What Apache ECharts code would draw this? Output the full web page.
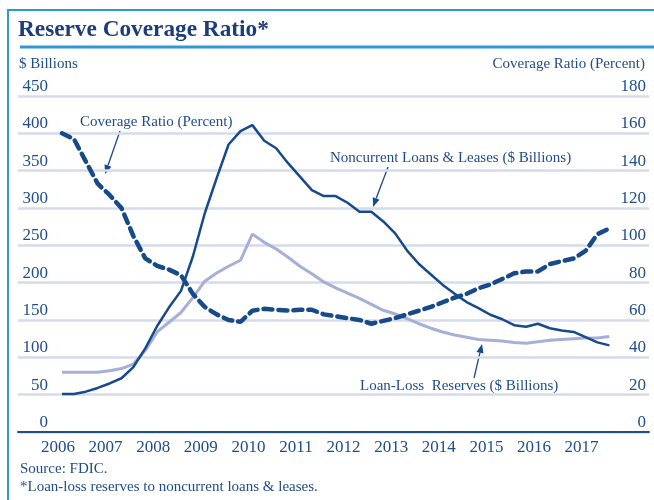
<!DOCTYPE html>
<html><head><meta charset="utf-8">
<script src="https://cdn.jsdelivr.net/npm/echarts@6/dist/echarts.min.js"></script>
<style>html,body{margin:0;padding:0;background:#fff}#c{width:654px;height:500px}</style>
</head><body><div id="c"></div>
<script>
const quarters = ["2006Q1","2006Q2","2006Q3","2006Q4","2007Q1","2007Q2","2007Q3","2007Q4",
  "2008Q1","2008Q2","2008Q3","2008Q4","2009Q1","2009Q2","2009Q3","2009Q4",
  "2010Q1","2010Q2","2010Q3","2010Q4","2011Q1","2011Q2","2011Q3","2011Q4",
  "2012Q1","2012Q2","2012Q3","2012Q4","2013Q1","2013Q2","2013Q3","2013Q4",
  "2014Q1","2014Q2","2014Q3","2014Q4","2015Q1","2015Q2","2015Q3","2015Q4",
  "2016Q1","2016Q2","2016Q3","2016Q4","2017Q1","2017Q2","2017Q3"];
const noncurrent = [51,51,54,59,65,72,87,112,142,167,189,235,293,340,385,403,411,390,380,360,342,324,316,316,307,295,295,282,266,243,225,211,197,185,174,166,157,151,143,141,145,139,136,134,127,120,116];
const reserves = [80,80,80,80,82,85,91,109,134,147,160,180,202,213,222,230,265,254,245,234,222,212,201,193,186,179,171,163,158,152,145,139,134,130,127,124,123,122,120,119,121,123,124,125,126,126,128];
const coverage = [160,157,145,133,127,120,105,93,89,87,84,74,67,63,60,59,65,66,65.5,65,65.5,65.5,63,62,61,60,58,59.5,61,63,65,67,69.5,72,74,77,79,82,85,86,86,90,91.5,93,97,106,109];
const yearMin = 2006, yearMax = 2018;
const leftMax = 450, leftStep = 50;
const rightMax = 180, rightStep = 20;

function qPos(q){ const y = +q.slice(0,4), n = +q.slice(5); return y + (n-1)/4 + 1/12; }
const pts = arr => arr.map((v,i)=>[qPos(quarters[i]), v]);

const SERIF = '"Liberation Serif","DejaVu Serif",serif';
const TXT = '#1f4c8c';
const DARK = '#174a8b';
const LIGHT = '#a6afd5';
const GRID = '#d6dbeb';
const FRAME = '#2f97d5';

function arrow(x1,y1,x2,y2){
  const a = Math.atan2(y2-y1, x2-x1), L = 9, W = 3.6;
  const bx = x2 - L*Math.cos(a), by = y2 - L*Math.sin(a);
  const px = -Math.sin(a)*W, py = Math.cos(a)*W;
  return [
    {type:'line', shape:{x1:x1,y1:y1,x2:bx,y2:by}, style:{stroke:DARK,lineWidth:1.3}},
    {type:'polygon', shape:{points:[[x2,y2],[bx+px,by+py],[bx-px,by-py]]}, style:{fill:DARK}}
  ];
}
function txt(x,y,t,opt,extra){
  return Object.assign({type:'text', x:x, y:y, style:Object.assign({text:t, fill:TXT, font:'15px '+SERIF, textVerticalAlign:'middle'}, opt||{})}, extra||{});
}

const chart = echarts.init(document.getElementById('c'), null, {renderer:'canvas'});
chart.setOption({
  animation:false,
  backgroundColor:'#fff',
  grid:[
    {left:18, right:5, top:96, bottom:68},
    {left:58, right:24.8, top:96, bottom:68}
  ],
  xAxis:[
    {gridIndex:0, type:'value', min:0, max:1, axisLine:{show:true, lineStyle:{color:'#1d4f8c', width:2}},
     axisTick:{show:false}, axisLabel:{show:false}, splitLine:{show:false}},
    {gridIndex:1, type:'value', min:yearMin, max:yearMax, interval:1, axisLine:{show:false},
     axisTick:{show:false}, splitLine:{show:false},
     axisLabel:{color:TXT, fontFamily:SERIF, fontSize:17, margin:7, formatter:v=>String(v), showMaxLabel:false}}
  ],
  yAxis:[
    {gridIndex:0, type:'value', min:0, max:leftMax, interval:leftStep, position:'left',
     axisLine:{show:false}, axisTick:{show:false},
     splitLine:{show:true, lineStyle:{color:GRID, width:2.5}},
     axisLabel:{inside:true, align:'right', margin:30, verticalAlign:'bottom', color:TXT, fontFamily:SERIF, fontSize:17, padding:[0,0,1,0]}},
    {gridIndex:0, type:'value', min:0, max:rightMax, interval:rightStep, position:'right',
     axisLine:{show:false}, axisTick:{show:false}, splitLine:{show:false},
     axisLabel:{inside:true, align:'right', margin:3, verticalAlign:'bottom', color:TXT, fontFamily:SERIF, fontSize:17, padding:[0,0,1,0]}},
    {gridIndex:1, type:'value', min:0, max:leftMax, show:false},
    {gridIndex:1, type:'value', min:0, max:rightMax, show:false}
  ],
  series:[
    {name:'Loan-Loss Reserves ($ Billions)', type:'line', xAxisIndex:1, yAxisIndex:2, data:pts(reserves),
     symbol:'none', lineStyle:{color:LIGHT, width:3}, z:2},
    {name:'Noncurrent Loans & Leases ($ Billions)', type:'line', xAxisIndex:1, yAxisIndex:2, data:pts(noncurrent),
     symbol:'none', lineStyle:{color:DARK, width:2.5}, z:3},
    {name:'Coverage Ratio (Percent)', type:'line', xAxisIndex:1, yAxisIndex:3, data:pts(coverage),
     symbol:'none', lineStyle:{color:DARK, width:4.5, type:[9,6], cap:'round'}, z:4}
  ],
  graphic:[
    {type:'line', shape:{x1:7,y1:10,x2:654,y2:10}, style:{stroke:FRAME,lineWidth:2}},
    {type:'line', shape:{x1:8,y1:10,x2:8,y2:500}, style:{stroke:FRAME,lineWidth:2}},
    txt(18,30,'Reserve Coverage Ratio*',{font:'bold 24px '+SERIF, fill:'#1b3e7a'},{scaleX:0.97}),
    {type:'line', shape:{x1:20,y1:47,x2:654,y2:47}, style:{stroke:FRAME,lineWidth:3}},
    txt(19,64,'$ Billions',{font:'15px '+SERIF}),
    txt(645,64,'Coverage Ratio (Percent)',{font:'15px '+SERIF, textAlign:'right'}),
    txt(80,122,'Coverage Ratio (Percent)'),
    ...arrow(120,131,105,174),
    txt(330,158,'Noncurrent Loans & Leases ($ Billions)'),
    ...arrow(388,167,373,207),
    txt(360,386,'Loan-Loss  Reserves ($ Billions)'),
    ...arrow(474,378,482,344),
    txt(20,469,'Source: FDIC.',{font:'15px '+SERIF}),
    txt(20,487,'*Loan-loss reserves to noncurrent loans & leases.',{font:'15px '+SERIF})
  ]
});
</script></body></html>
